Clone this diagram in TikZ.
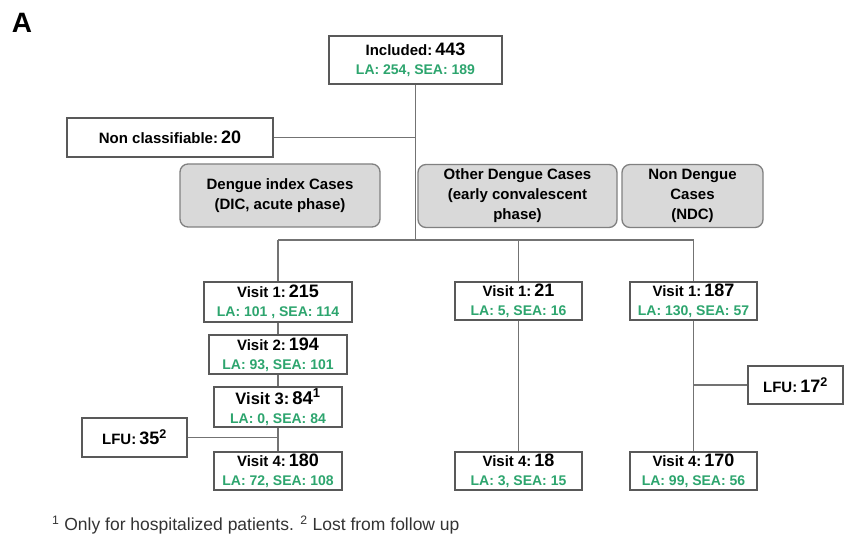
\documentclass[tikz,border=0pt]{standalone}
\usepackage{fontspec}
\setmainfont{Liberation Sans}
\usepackage{tikz}
\usepackage{xcolor}
\definecolor{lagreen}{RGB}{45,165,110}
\definecolor{grpfill}{RGB}{217,217,217}
\newcommand{\hd}[2]{{\fontsize{15}{19}\selectfont #1}\hspace{3pt}{\fontsize{18}{19}\selectfont #2}}
\newcommand{\grp}[1]{{\fontsize{14}{19}\selectfont\color{lagreen}#1}}

\begin{document}
\begin{tikzpicture}[x=1pt,y=-1pt]
\tikzstyle{every node}=[font=\bfseries,inner sep=0pt]
\tikzstyle{box}=[draw=black!65,line width=1.3pt,fill=white,align=center,font=\bfseries\fontsize{15}{19}\selectfont]
\tikzstyle{grpbox}=[draw=black!50,line width=1.3pt,fill=grpfill,rounded corners=8pt,align=center,font=\bfseries\fontsize{15}{20}\selectfont]
\tikzstyle{link}=[draw=black!55,line width=1.6pt]
\useasboundingbox (0,0) rectangle (844,545);
\node (lbl) at (22,23) {\fontsize{28}{30}\selectfont A};
\node[box,minimum width=173,minimum height=48] (inc) at (415.5,60) {\hd{Included:}{443}\\\grp{LA: 254, SEA: 189}};
\node[box,minimum width=206,minimum height=39] (noncl) at (170,137.5) {\hd{Non classifiable:}{20}};
\node[grpbox,minimum width=200,minimum height=63] (dic) at (280,195.5) {Dengue index Cases\\(DIC, acute phase)};
\node[grpbox,minimum width=199,minimum height=63] (odc) at (517.5,196) {Other Dengue Cases\\(early convalescent\\phase)};
\node[grpbox,minimum width=141,minimum height=63] (ndc) at (692.5,196) {Non Dengue\\Cases\\(NDC)};
\coordinate (br) at (415,240);
% index cases
\node[box,minimum width=148,minimum height=40] (v1a) at (278,302) {\hd{Visit 1:}{215}\\\grp{LA: 101 , SEA: 114}};
\node[box,minimum width=138,minimum height=39] (v2a) at (278,354.5) {\hd{Visit 2:}{194}\\\grp{LA: 93, SEA: 101}};
\node[box,minimum width=128,minimum height=40] (v3a) at (278,407) {{\fontsize{16.5}{19}\selectfont Visit 3:}\hspace{3pt}{\fontsize{18.5}{19}\selectfont 84\textsuperscript{1}}\\\grp{LA: 0, SEA: 84}};
\node[box,minimum width=128,minimum height=38] (v4a) at (278,471) {\hd{Visit 4:}{180}\\\grp{LA: 72, SEA: 108}};
\node[box,minimum width=105,minimum height=39] (lfua) at (134.5,437.5) {\hd{LFU:}{35\textsuperscript{2}}};
% other dengue cases
\node[box,minimum width=127,minimum height=38] (v1b) at (518.5,301) {\hd{Visit 1:}{21}\\\grp{LA: 5, SEA: 16}};
\node[box,minimum width=127,minimum height=38] (v4b) at (518.5,471) {\hd{Visit 4:}{18}\\\grp{LA: 3, SEA: 15}};
% non dengue cases
\node[box,minimum width=127,minimum height=38] (v1c) at (693.5,301) {\hd{Visit 1:}{187}\\\grp{LA: 130, SEA: 57}};
\node[box,minimum width=127,minimum height=38] (v4c) at (693.5,471) {\hd{Visit 4:}{170}\\\grp{LA: 99, SEA: 56}};
\node[box,minimum width=95,minimum height=38] (lfub) at (795.5,385) {\hd{LFU:}{17\textsuperscript{2}}};
\node[anchor=west,font=\fontsize{17.5}{20}\selectfont,text=black!80] (fn) at (52,525) {\textsuperscript{1} Only for hospitalized patients. \textsuperscript{2} Lost from follow up};
% connectors
\draw[link] (inc.south) -- (inc.south |- br);
\draw[link] (noncl.east) -- (noncl.east -| inc.south);
\draw[link] (v1a.north |- br) -- (v1c.north |- br);
\draw[link] (v1a.north |- br) -- (v1a.north);
\draw[link] (v1b.north |- br) -- (v1b.north);
\draw[link] (v1c.north |- br) -- (v1c.north);
\draw[link] (v1a.south) -- (v2a.north);
\draw[link] (v2a.south) -- (v3a.north);
\draw[link] (v3a.south) -- (v4a.north);
\draw[link] (lfua.east) -- (lfua.east -| v3a.south);
\draw[link] (v1b.south) -- (v4b.north);
\draw[link] (v1c.south) -- (v4c.north);
\draw[link] (lfub.west) -- (lfub.west -| v1c.south);
\end{tikzpicture}
\end{document}
